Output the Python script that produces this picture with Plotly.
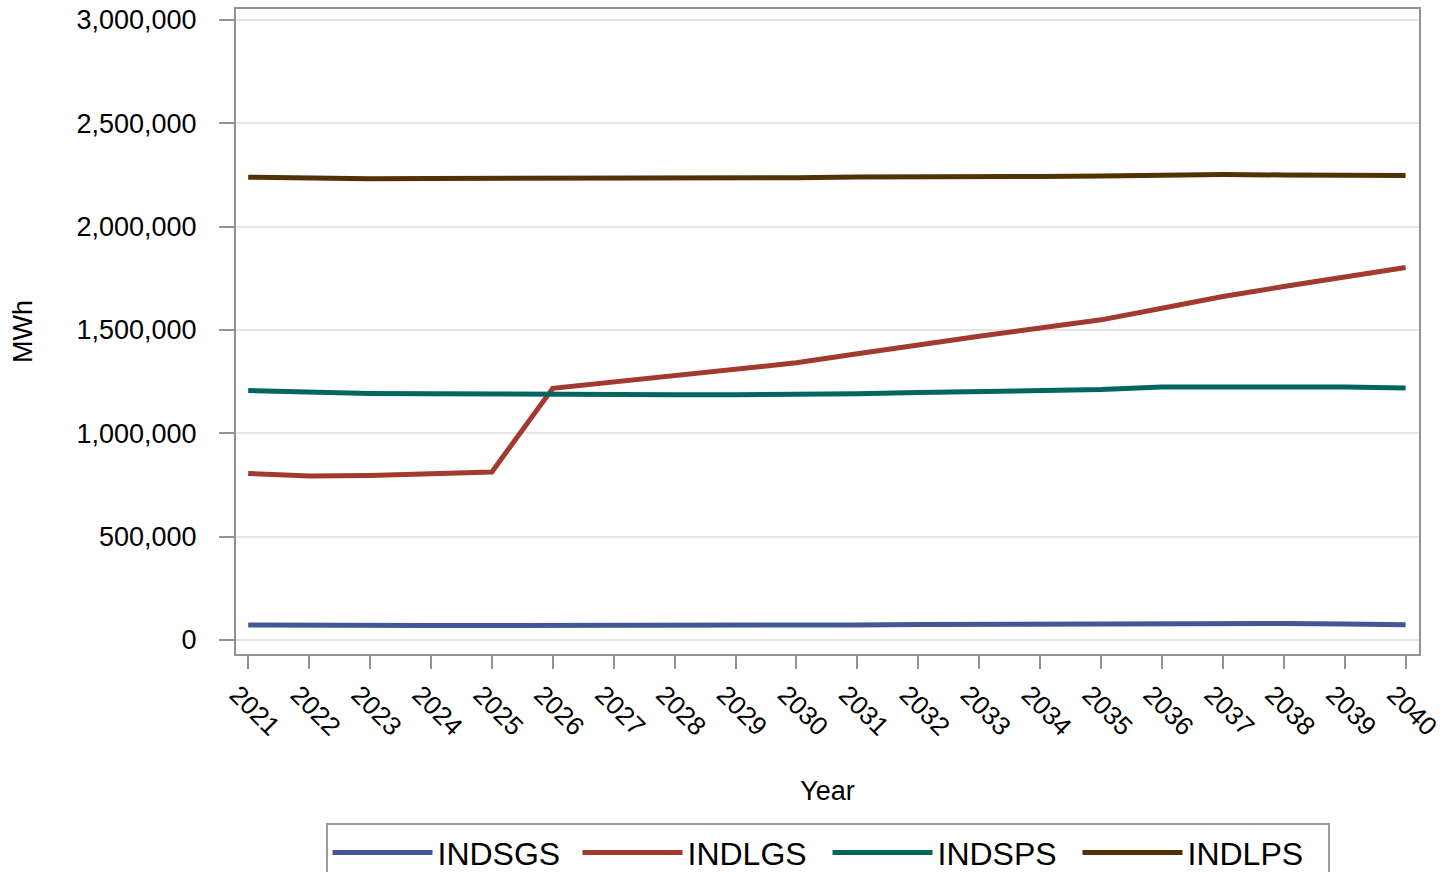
import plotly.graph_objects as go

years = list(range(2021, 2041))

indsgs = [72600, 70000, 70000, 70500, 70500, 70000, 69500, 69000, 70000, 71500,
          73000, 74500, 75500, 76500, 78500, 82000, 82500, 80000, 77000, 73500]
indlgs = [806000, 794000, 796000, 803000, 813000, 1218000, 1250000, 1280000, 1310000, 1341000,
          1385000, 1430000, 1470000, 1510000, 1549000, 1605000, 1662000, 1710000, 1757000, 1802000]
indsps = [1207000, 1197000, 1193000, 1191000, 1189000, 1188000, 1187000, 1187000, 1187000, 1188000,
          1191000, 1197000, 1200000, 1207000, 1212000, 1224000, 1227000, 1224000, 1224000, 1219000]
indlps = [2239000, 2234000, 2232000, 2233000, 2233000, 2234000, 2234000, 2235000, 2235000, 2237000,
          2240000, 2243000, 2243000, 2243000, 2245000, 2250000, 2252000, 2250000, 2249000, 2248000]

series_names = ["INDSGS", "INDLGS", "INDSPS", "INDLPS"]
series_values = [indsgs, indlgs, indsps, indlps]
series_colors = ["#445694", "#A23A2E", "#01665E", "#543005"]

y_ticks = [0, 500000, 1000000, 1500000, 2000000, 2500000, 3000000]

FONT = "Liberation Sans, Arial, sans-serif"

fig = go.Figure()
for name, vals, col in zip(series_names, series_values, series_colors):
    fig.add_trace(go.Scatter(x=years, y=vals, mode="lines", name=name,
                             line=dict(color=col, width=5)))

axis_gray = "#8f9396"
fig.update_layout(
    width=1450, height=900,
    paper_bgcolor="white", plot_bgcolor="white",
    margin=dict(l=236, r=31, t=9, b=246, autoexpand=False),
    font=dict(family=FONT, size=27, color="black"),
    showlegend=True,
    legend=dict(orientation="h", x=0.5, xanchor="center", y=-0.2623, yanchor="top",
                bordercolor="#9a9a9a", borderwidth=2, font=dict(size=32, family=FONT),
                itemwidth=100, tracegroupgap=0, entrywidth=135, entrywidthmode="pixels"),
    xaxis=dict(
        range=[2020.8, 2040.22], tickmode="array", tickvals=years,
        ticktext=[str(y) for y in years], tickangle=45,
        ticklabelshift=-11, ticklabeloverflow="allow",
        showgrid=False, zeroline=False,
        showline=True, linecolor=axis_gray, linewidth=2, mirror=True,
        ticks="outside", ticklen=13, tickwidth=2, tickcolor=axis_gray,
        tickfont=dict(size=26, family=FONT, color="black"),
        title=dict(text="Year", font=dict(size=27, family=FONT), standoff=41),
    ),
    yaxis=dict(
        range=[-67800, 3053000], tickmode="array", tickvals=y_ticks,
        tickformat=",d", ticklabelstandoff=17, ticklabeloverflow="allow",
        showgrid=True, gridcolor="#e6e6e6", gridwidth=2, zeroline=False,
        showline=True, linecolor=axis_gray, linewidth=2, mirror=True,
        ticks="outside", ticklen=15, tickwidth=2, tickcolor=axis_gray,
        tickfont=dict(size=27, family=FONT, color="black"),
        title=dict(text="MWh", font=dict(size=27, family=FONT), standoff=36),
    ),
)

fig.write_html("out.html", config={"displayModeBar": False},
               post_script="document.body.style.margin='0px';")
